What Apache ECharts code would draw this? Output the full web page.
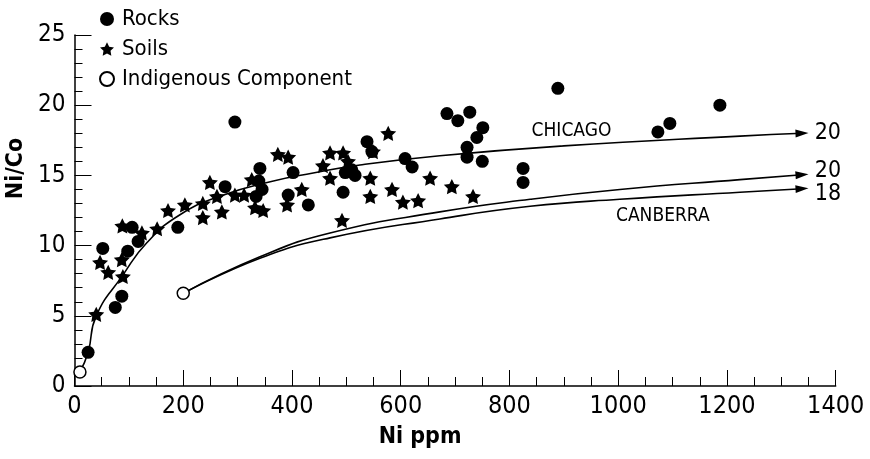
<!DOCTYPE html>
<html><head><meta charset="utf-8">
<script src="https://cdn.jsdelivr.net/npm/echarts@6/dist/echarts.min.js"></script>
<style>html,body{margin:0;padding:0;background:#fff}#c{width:870px;height:459px}</style>
</head><body><div id="c"></div>
<script>
// ---- data ----
const rocks = [[25,2.4],[52,9.8],[75,5.6],[87,6.4],[98,9.6],[106,11.3],[117,10.3],[190,11.3],
  [277,14.2],[295,18.8],[341,15.5],[339,14.6],[345,14.0],[334,13.5],[402,15.2],[393,13.6],[430,12.9],
  [498,15.2],[510,15.4],[516,15.0],[494,13.8],[538,17.4],[547,16.7],[608,16.2],[621,15.6],
  [685,19.4],[705,18.9],[727,19.5],[751,18.4],[740,17.7],[722,17.0],[722,16.3],[750,16.0],
  [825,15.5],[825,14.5],[889,21.2],[1073,18.1],[1095,18.7],[1187,20.0]];
const soils = [[40,5.1],[47,8.8],[62,8.1],[87,9.0],[89,7.8],[88,11.4],[124,10.9],[152,11.2],
  [172,12.5],[203,12.9],[236,13.0],[236,12.0],[249,14.5],[271,12.4],[295,13.6],[312,13.6],[262,13.5],
  [326,14.7],[332,12.7],[347,12.5],[374,16.5],[393,16.3],[391,12.9],[418,14.0],[457,15.7],
  [470,16.6],[494,16.6],[470,14.8],[503,16.0],[492,11.8],[549,16.7],[577,18.0],[544,14.8],
  [544,13.5],[584,14.0],[604,13.1],[632,13.2],[654,14.8],[694,14.2],[733,13.5]];
const indigenous = [[10,1.0],[200,6.6]];
const chicago = [[10,1.0],[25,2.4],[40,5.0],[89,7.9],[133,10.2],[194,12.2],[270,13.55],[360,14.55],
  [439,15.17],[525,15.74],[672,16.4],[900,17.1],[1224,17.8],[1338,18.0]];
const canberraUpper = [[200,6.6],[341,9.2],[470,10.9],[672,12.4],[838,13.3],[1003,14.0],[1224,14.7],[1338,15.05]];
const canberraLower = [[200,6.6],[341,9.1],[470,10.55],[672,11.9],[838,12.8],[1003,13.3],[1224,13.8],[1338,14.05]];
const endLabels = ['20','20','18'];
const curveNames = ['CHICAGO','CANBERRA'];
const curveNameAt = [[914,18.16],[1082,12.11]];
const legendNames = ['Rocks','Soils','Indigenous Component'];

// ---- chart ----
const F = "'DejaVu Sans Condensed','Liberation Sans',sans-serif";
const STAR = 'path://M50,0L64.7,29.8L97.6,34.5L73.8,57.7L79.4,90.5L50,75L20.6,90.5L26.2,57.7L2.4,34.5L35.3,29.8Z';

function curve(points, label, rot, offY) {
  return points.map((p, i) => {
    if (i < points.length - 1) return p;
    return {
      value: p, symbol: 'triangle', symbolSize: [8, 13], symbolRotate: rot,
      label: { show: true, position: 'right', distance: 6, formatter: label, offset: [0, offY],
        color: '#000', fontSize: 23, fontFamily: F }
    };
  });
}
const lineBase = {
  type: 'line', smooth: 0.5, symbol: 'none', silent: true,
  lineStyle: { color: '#000', width: 1.6 }, itemStyle: { color: '#000', opacity: 1 }, z: 2
};
function nameMark(i) {
  return { symbol: 'circle', symbolSize: 0, silent: true,
    data: [{ coord: curveNameAt[i], label: { show: true, position: 'inside', formatter: curveNames[i],
      color: '#000', fontSize: 19, fontFamily: F } }] };
}

const chart = echarts.init(document.getElementById('c'), null, { renderer: 'canvas' });
chart.setOption({
  animation: false,
  backgroundColor: '#fff',
  grid: { left: 74.5, right: 34.3, top: 35, bottom: 73, containLabel: false, outerBoundsMode: 'none' },
  legend: {
    orient: 'vertical', left: 94, top: 3, itemWidth: 14, itemHeight: 14, itemGap: 8,
    data: legendNames,
    textStyle: { fontSize: 22, fontFamily: F, color: '#000', padding: [0, 0, 0, 3] }
  },
  xAxis: {
    type: 'value', min: 0, max: 1400, interval: 200,
    axisLine: { lineStyle: { color: '#000', width: 1.5 } },
    axisTick: { inside: true, length: 16, lineStyle: { color: '#000', width: 1 } },
    minorTick: { show: true, splitNumber: 4, length: 9, lineStyle: { color: '#000', width: 1 } },
    splitLine: { show: false },
    axisLabel: { color: '#000', fontSize: 25, fontFamily: F, margin: 8, formatter: v => String(v) },
    name: 'Ni ppm', nameLocation: 'middle', nameGap: 40,
    nameTextStyle: { color: '#000', fontSize: 23, fontWeight: 'bold', fontFamily: F, padding: [0, 70, 0, 0] }
  },
  yAxis: {
    type: 'value', min: 0, max: 25, interval: 5,
    axisLine: { show: true, lineStyle: { color: '#000', width: 1.5 } },
    axisTick: { show: true, inside: true, length: 17, lineStyle: { color: '#000', width: 1 } },
    minorTick: { show: true, splitNumber: 5, length: 8, lineStyle: { color: '#000', width: 1 } },
    splitLine: { show: false },
    axisLabel: { color: '#000', fontSize: 24, fontFamily: F, margin: 9 },
    name: 'Ni/Co', nameLocation: 'middle', nameGap: 44,
    nameTextStyle: { color: '#000', fontSize: 23, fontWeight: 'bold', fontFamily: F, padding: [0, 0, 0, 84] }
  },
  series: [
    Object.assign({}, lineBase, { name: 'chicago', data: curve(chicago, endLabels[0], -87.7, 0), markPoint: nameMark(0) }),
    Object.assign({}, lineBase, { name: 'canberraUpper', data: curve(canberraUpper, endLabels[1], -85.7, -4) }),
    Object.assign({}, lineBase, { name: 'canberraLower', data: curve(canberraLower, endLabels[2], -86.6, 5), markPoint: nameMark(1) }),
    { name: 'Rocks', type: 'scatter', data: rocks, symbol: 'circle', symbolSize: 13,
      itemStyle: { color: '#000', opacity: 1 }, z: 3 },
    { name: 'Soils', type: 'scatter', data: soils, symbol: STAR, symbolSize: 16, symbolKeepAspect: true,
      itemStyle: { color: '#000', opacity: 1 }, z: 3 },
    { name: 'Indigenous Component', type: 'scatter', data: indigenous, symbol: 'circle', symbolSize: 12,
      itemStyle: { color: '#fff', borderColor: '#000', borderWidth: 1.5, opacity: 1 }, z: 4 }
  ]
});
</script>
</body></html>
